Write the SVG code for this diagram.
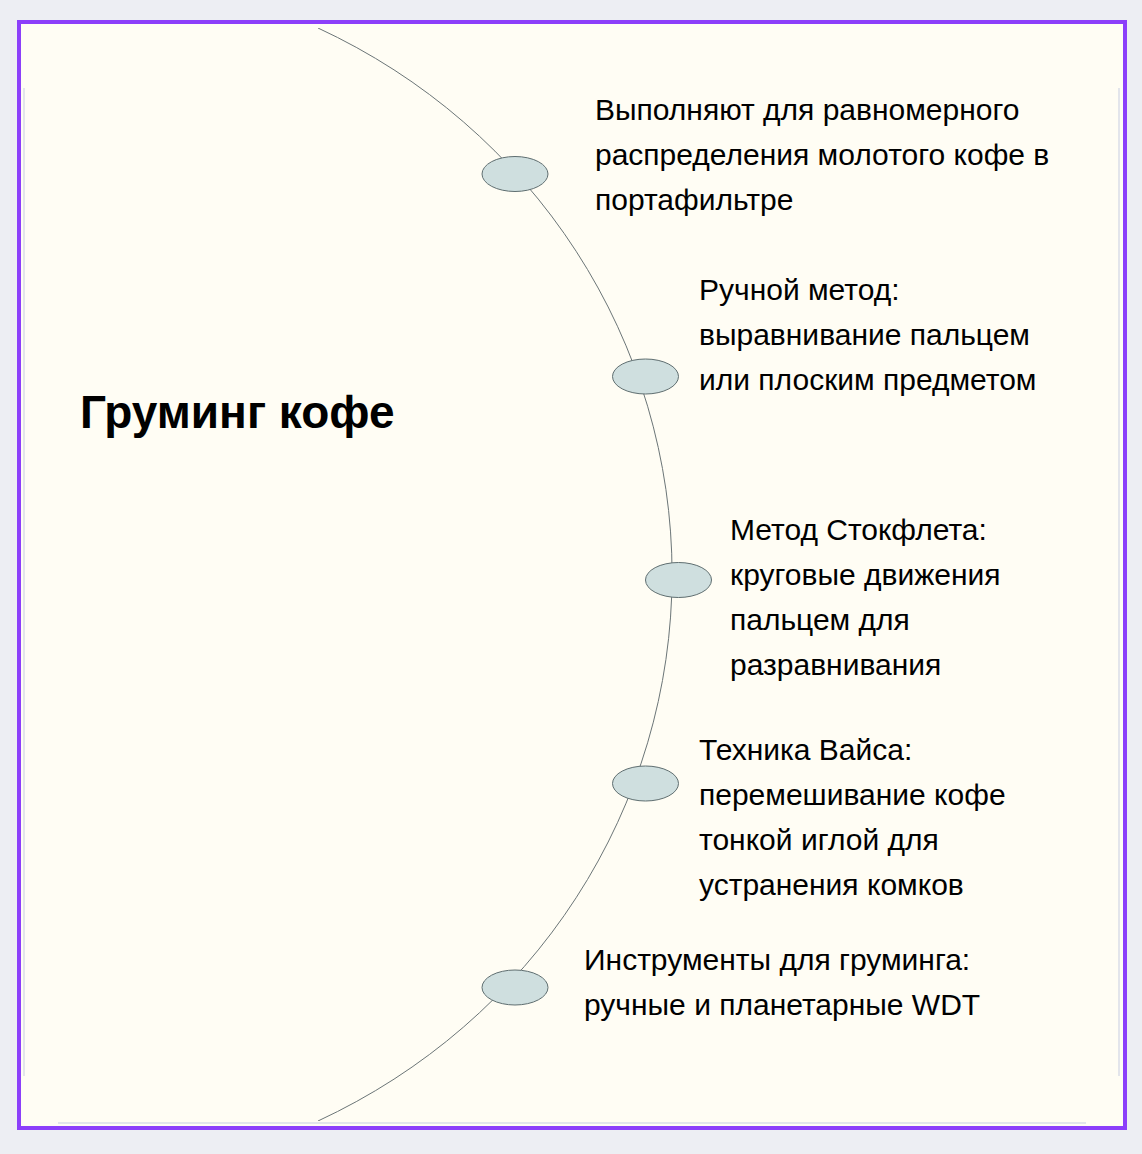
<svg xmlns="http://www.w3.org/2000/svg" width="1142" height="1154" viewBox="0 0 1142 1154">
  <defs>
    <style>
      .node-shape { fill: #cfdfdf; stroke: #5f6e70; stroke-width: 1; }
      .label { font-family: "Liberation Sans", Arial, sans-serif; font-size: 30px; fill: #000000; }
      .title { font-family: "Liberation Sans", Arial, sans-serif; font-size: 46px; font-weight: bold; fill: #000000; }
      .arc { fill: none; stroke: #6b7577; stroke-width: 1; }
      .faint { stroke: #e3e5eb; stroke-width: 2; fill: none; }
    </style>
    <clipPath id="frameClip">
      <rect x="21" y="28" width="1102" height="1093"/>
    </clipPath>
  </defs>

  <rect x="0" y="0" width="1142" height="1154" fill="#edeef3"/>
  <rect x="19" y="22" width="1106" height="1106" fill="#fffdf4" stroke="#8c3ffa" stroke-width="4"/>

  <g id="frame-shadow">
    <line class="faint" x1="24" y1="88" x2="24" y2="1076"/>
    <line class="faint" x1="1119" y1="88" x2="1119" y2="1076"/>
    <line class="faint" x1="58" y1="1123" x2="1086" y2="1123"/>
  </g>

  <g id="connectors">
    <path class="arc" clip-path="url(#frameClip)" d="M318,28 A620.1,605 0 0 1 318,1121"/>
  </g>

  <g id="title">
    <text class="title" x="80" y="428">Груминг кофе</text>
  </g>

  <g id="node-1">
    <ellipse class="node-shape" cx="515" cy="174" rx="33" ry="17.5"/>
    <text class="label" x="595" y="120">Выполняют для равномерного</text>
    <text class="label" x="595" y="165">распределения молотого кофе в</text>
    <text class="label" x="595" y="210">портафильтре</text>
  </g>

  <g id="node-2">
    <ellipse class="node-shape" cx="645.5" cy="376.5" rx="33" ry="17.5"/>
    <text class="label" x="699" y="300">Ручной метод:</text>
    <text class="label" x="699" y="345">выравнивание пальцем</text>
    <text class="label" x="699" y="390">или плоским предметом</text>
  </g>

  <g id="node-3">
    <ellipse class="node-shape" cx="678.5" cy="580" rx="33" ry="17.5"/>
    <text class="label" x="730" y="540">Метод Стокфлета:</text>
    <text class="label" x="730" y="585">круговые движения</text>
    <text class="label" x="730" y="630">пальцем для</text>
    <text class="label" x="730" y="675">разравнивания</text>
  </g>

  <g id="node-4">
    <ellipse class="node-shape" cx="645.5" cy="783.5" rx="33" ry="17.5"/>
    <text class="label" x="699" y="760">Техника Вайса:</text>
    <text class="label" x="699" y="805">перемешивание кофе</text>
    <text class="label" x="699" y="850">тонкой иглой для</text>
    <text class="label" x="699" y="895">устранения комков</text>
  </g>

  <g id="node-5">
    <ellipse class="node-shape" cx="515" cy="987.5" rx="33" ry="17.5"/>
    <text class="label" x="584" y="970">Инструменты для груминга:</text>
    <text class="label" x="584" y="1015">ручные и планетарные WDT</text>
  </g>
</svg>
